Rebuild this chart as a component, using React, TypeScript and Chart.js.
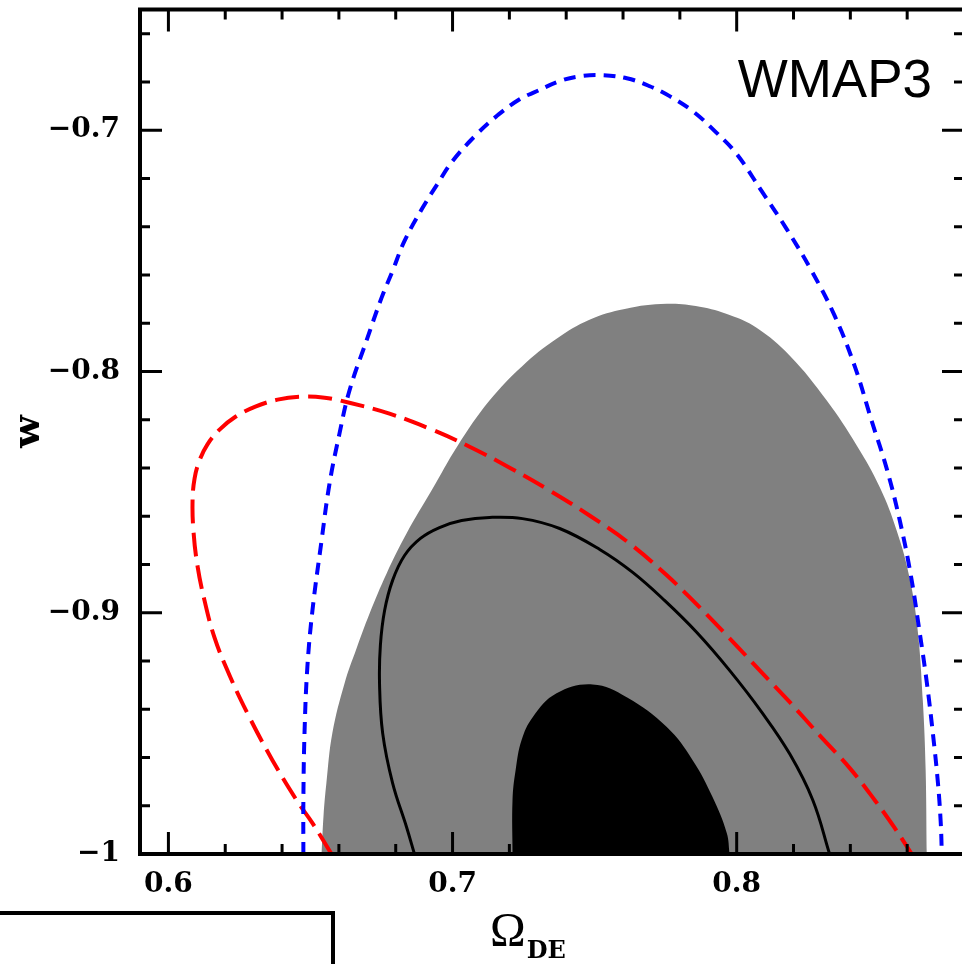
import React, { useEffect, useRef } from "react";
import { Chart, registerables } from "chart.js";

Chart.register(...registerables);

// ---- axes ----
const X_MIN = 0.59;
const X_MAX = 0.88;
const Y_MIN = -1;
const Y_MAX = -0.65;
const X_TICKS = [0.6, 0.7, 0.8];
const X_MINOR = [0.6, 0.62, 0.64, 0.66, 0.68, 0.7, 0.72, 0.74, 0.76, 0.78, 0.8, 0.82, 0.84, 0.86, 0.88];
const Y_TICKS = [-1, -0.9, -0.8, -0.7];
const Y_MINOR = [-1, -0.98, -0.96, -0.94, -0.92, -0.9, -0.88, -0.86, -0.84, -0.82, -0.8, -0.78, -0.76, -0.74, -0.72, -0.7, -0.68, -0.66];
const X_TITLE = "Ω";
const X_TITLE_SUB = "DE";
const Y_TITLE = "w";
const PANEL_LABEL = "WMAP3";

// ---- outer (gray) filled contour ----
const GRAY_X = [0.6539, 0.6546, 0.6556, 0.6577, 0.662, 0.6662, 0.6708, 0.6768, 0.6838, 0.6926, 0.7018, 0.713, 0.7246, 0.7366, 0.7482, 0.7606, 0.7754, 0.787, 0.7975, 0.807, 0.8187, 0.8317, 0.8423, 0.8504, 0.8563, 0.8609, 0.8637, 0.8655, 0.8665, 0.8669];
const GRAY_Y = [-1.0, -0.9839, -0.9706, -0.9499, -0.9292, -0.9148, -0.9003, -0.8837, -0.8672, -0.8494, -0.8308, -0.8121, -0.7977, -0.7865, -0.7786, -0.7741, -0.772, -0.7732, -0.7766, -0.7819, -0.7935, -0.8121, -0.8308, -0.8481, -0.8659, -0.8858, -0.9073, -0.9363, -0.9652, -1.0];

// ---- inner (black) filled contour ----
const CORE_X = [0.7211, 0.7211, 0.7222, 0.7243, 0.7282, 0.7366, 0.7493, 0.7613, 0.7754, 0.7845, 0.7915, 0.7965, 0.7975];
const CORE_Y = [-1.0, -0.9777, -0.9652, -0.9528, -0.9433, -0.9334, -0.9297, -0.935, -0.9474, -0.9611, -0.9764, -0.9913, -1.0];

// ---- solid black contour ----
const SOLID_X = [0.6866, 0.6838, 0.6789, 0.6754, 0.6743, 0.6746, 0.6761, 0.6789, 0.6831, 0.6887, 0.6954, 0.7032, 0.713, 0.7246, 0.7377, 0.7518, 0.7634, 0.7746, 0.7859, 0.7975, 0.8088, 0.8187, 0.8268, 0.8327];
const SOLID_Y = [-1.0, -0.9888, -0.9706, -0.9499, -0.9292, -0.9135, -0.899, -0.8866, -0.8763, -0.8692, -0.8647, -0.8618, -0.8605, -0.861, -0.8651, -0.8738, -0.8833, -0.8949, -0.9081, -0.9239, -0.9412, -0.9586, -0.9777, -1.0];

// ---- red long-dashed contour ----
const RED_X = [0.6574, 0.6507, 0.6451, 0.6366, 0.6285, 0.6215, 0.6162, 0.6127, 0.6102, 0.6088, 0.6085, 0.6092, 0.6109, 0.6137, 0.618, 0.6236, 0.6306, 0.6384, 0.6461, 0.655, 0.6637, 0.6778, 0.6919, 0.706, 0.7201, 0.7342, 0.7482, 0.7623, 0.7754, 0.787, 0.7975, 0.8081, 0.8187, 0.8292, 0.8398, 0.8486, 0.8556, 0.8616];
const RED_Y = [-1.0, -0.9872, -0.9777, -0.9611, -0.9433, -0.9259, -0.9102, -0.8949, -0.8804, -0.8659, -0.8535, -0.8444, -0.837, -0.8303, -0.8241, -0.8188, -0.8146, -0.8117, -0.8105, -0.8109, -0.813, -0.8175, -0.8237, -0.8312, -0.8399, -0.8494, -0.8597, -0.8713, -0.8845, -0.8978, -0.9106, -0.9239, -0.9371, -0.9508, -0.9644, -0.9777, -0.9892, -1.0];

// ---- blue short-dashed contour ----
const BLUE_X = [0.6475, 0.6475, 0.6479, 0.6489, 0.6507, 0.6539, 0.6567, 0.6602, 0.6637, 0.6697, 0.675, 0.6789, 0.6831, 0.6894, 0.6947, 0.7, 0.7085, 0.7155, 0.7236, 0.7296, 0.7377, 0.7447, 0.7525, 0.7613, 0.7694, 0.7764, 0.7845, 0.7923, 0.8, 0.8088, 0.8176, 0.8264, 0.8345, 0.8415, 0.8475, 0.8528, 0.8574, 0.8613, 0.8644, 0.8669, 0.869, 0.8708, 0.8718, 0.8722];
const BLUE_Y = [-1.0, -0.9777, -0.9499, -0.9226, -0.899, -0.8701, -0.8465, -0.8258, -0.808, -0.7873, -0.7695, -0.7583, -0.7459, -0.7323, -0.7223, -0.7128, -0.7017, -0.6942, -0.6872, -0.6839, -0.6797, -0.6777, -0.6772, -0.6785, -0.6818, -0.6859, -0.6921, -0.7004, -0.7099, -0.7253, -0.7410, -0.7584, -0.7770, -0.7977, -0.8205, -0.8403, -0.8618, -0.8846, -0.9082, -0.9288, -0.9495, -0.9702, -0.9868, -1.0];

const pts = (xs: number[], ys: number[]) => xs.map((x, i) => ({ x, y: ys[i] }));

const isMajor = (v: number, majors: number[]) => majors.some((m) => Math.abs(m - v) < 1e-9);

const fmt = (v: number) => (v < 0 ? "\u2212" : "") + String(Math.abs(Number(v.toFixed(2))));

const framePlugin = {
  id: "frameTicks",
  afterDatasetsDraw(chart: any) {
    const { ctx, chartArea, scales } = chart;
    const { left, right, top, bottom } = chartArea;
    const xs = scales.x;
    const ys = scales.y;
    ctx.save();
    ctx.strokeStyle = "#000";
    ctx.lineWidth = 3;
    ctx.beginPath();
    X_MINOR.forEach((v) => {
      const px = xs.getPixelForValue(v);
      const len = isMajor(v, X_TICKS) ? 22 : 10;
      ctx.moveTo(px, bottom);
      ctx.lineTo(px, bottom - len);
      ctx.moveTo(px, top);
      ctx.lineTo(px, top + len);
    });
    Y_MINOR.forEach((v) => {
      const py = ys.getPixelForValue(v);
      const len = isMajor(v, Y_TICKS) ? 22 : 10;
      ctx.moveTo(left, py);
      ctx.lineTo(left + len, py);
      ctx.moveTo(right, py);
      ctx.lineTo(right - len, py);
    });
    ctx.stroke();
    ctx.lineWidth = 4;
    ctx.strokeRect(left, top, right - left, bottom - top);
    ctx.restore();
  },
  afterDraw(chart: any) {
    const { ctx, chartArea } = chart;
    const { left, right, top, bottom } = chartArea;
    ctx.save();
    ctx.fillStyle = "#000";
    ctx.textBaseline = "alphabetic";
    ctx.textAlign = "right";
    ctx.font = '53px "Liberation Sans"';
    ctx.fillText(PANEL_LABEL, right - 32, top + 87);
    const cx = (left + right) / 2;
    ctx.textAlign = "left";
    ctx.font = '48px "Liberation Serif"';
    const x0 = cx - 62;
    ctx.fillText(X_TITLE, x0, bottom + 92);
    const w = ctx.measureText(X_TITLE).width;
    ctx.font = 'bold 24px "DejaVu Serif"';
    ctx.fillText(X_TITLE_SUB, x0 + w + 1, bottom + 104);
    ctx.restore();
  },
};

export default function App() {
  const ref = useRef<HTMLCanvasElement | null>(null);

  useEffect(() => {
    if (!ref.current) return;
    const tickFont = { family: '"DejaVu Serif"', size: 28, weight: "bold" as const };
    const chart = new Chart(ref.current, {
      type: "line",
      data: {
        datasets: [
          {
            label: "blue",
            data: pts(BLUE_X, BLUE_Y),
            borderColor: "#0000ff",
            borderWidth: 4,
            borderDash: [12, 8],
            pointRadius: 0,
            fill: false,
            tension: 0.4,
          },
          {
            label: "red",
            data: pts(RED_X, RED_Y),
            borderColor: "#ff0000",
            borderWidth: 4,
            borderDash: [24, 9],
            pointRadius: 0,
            fill: false,
            tension: 0.4,
          },
          {
            label: "solid",
            data: pts(SOLID_X, SOLID_Y),
            borderColor: "#000000",
            borderWidth: 3,
            pointRadius: 0,
            fill: false,
            tension: 0.4,
          },
          {
            label: "core",
            data: pts(CORE_X, CORE_Y),
            borderColor: "#000000",
            borderWidth: 0,
            backgroundColor: "#000000",
            pointRadius: 0,
            fill: "shape",
            tension: 0.4,
          },
          {
            label: "outer",
            data: pts(GRAY_X, GRAY_Y),
            borderColor: "#808080",
            borderWidth: 0,
            backgroundColor: "#808080",
            pointRadius: 0,
            fill: "shape",
            tension: 0.4,
          },
        ],
      },
      options: {
        responsive: false,
        animation: false,
        events: [],
        layout: { padding: { top: 9.5, right: 16, left: 0, bottom: 0 } },
        plugins: {
          legend: { display: false },
          tooltip: { enabled: false },
        },
        scales: {
          x: {
            type: "linear",
            min: X_MIN,
            max: X_MAX,
            grid: { display: false, drawTicks: false },
            border: { display: false },
            afterBuildTicks: (s: any) => {
              s.ticks = X_TICKS.map((v) => ({ value: v }));
            },
            afterFit: (s: any) => {
              s.height = 110;
              s.paddingLeft = 0;
              s.paddingRight = 0;
            },
            ticks: {
              autoSkip: false,
              maxRotation: 0,
              padding: 14,
              color: "#000",
              font: tickFont,
              callback: (v: any) => fmt(Number(v)),
            },
          },
          y: {
            type: "linear",
            min: Y_MIN,
            max: Y_MAX,
            grid: { display: false, drawTicks: false },
            border: { display: false },
            afterBuildTicks: (s: any) => {
              s.ticks = Y_TICKS.map((v) => ({ value: v }));
            },
            afterFit: (s: any) => {
              s.width = 140;
              s.paddingTop = 0;
              s.paddingBottom = 0;
            },
            ticks: {
              autoSkip: false,
              padding: 20,
              color: "#000",
              font: tickFont,
              callback: (v: any) => fmt(Number(v)),
            },
            title: {
              display: true,
              text: Y_TITLE,
              color: "#000",
              font: { family: '"DejaVu Serif"', size: 38, weight: "bold" },
              padding: { top: 6, bottom: 0 },
            },
          },
        },
      },
      plugins: [framePlugin],
    });
    return () => chart.destroy();
  }, []);

  return (
    <>
      <div style={{ position: "fixed", left: 0, top: 0, width: 980, height: 964, background: "#fff" }}>
        <canvas ref={ref} width={980} height={964} style={{ display: "block" }} />
      </div>
      <div
        style={{
          position: "fixed",
          left: -10,
          top: 911,
          width: 345,
          height: 100,
          border: "4px solid #000",
          boxSizing: "border-box",
        }}
      />
    </>
  );
}
